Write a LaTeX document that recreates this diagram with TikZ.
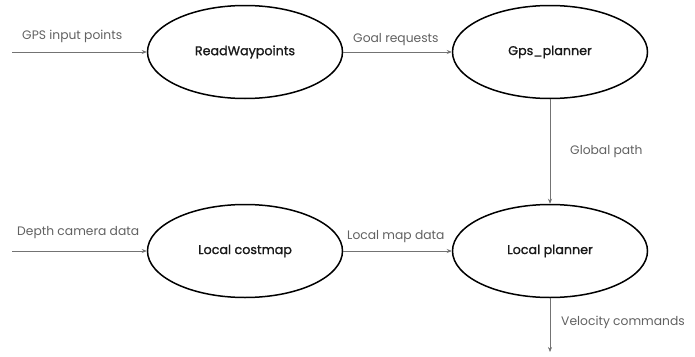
\documentclass[tikz,border=0pt]{standalone}
\usepackage{fontspec}
\setmainfont{Poppins}
\newfontfamily\nodefont{Poppins}[FakeBold=1.2]
\usetikzlibrary{shapes.geometric,arrows.meta}
\begin{document}
\begin{tikzpicture}[x=1pt,y=-1pt,
  proc/.style={draw=black,line width=1.5pt,ellipse,minimum width=195pt,minimum height=93pt,inner sep=0pt,font=\nodefont\fontsize{12.7}{14}\selectfont,text=black!90},
  flow/.style={draw=black!55,line width=0.7pt,-{Stealth[length=5pt,width=4pt,fill=black!85]}},
  lbl/.style={font=\fontsize{12.3}{14}\selectfont,text=black!62,inner sep=0pt}]
\useasboundingbox (0,0) rectangle (695,356);
\node[proc] (rw) at (245,52) {ReadWaypoints};
\node[proc] (gps) at (550,52) {Gps\_planner};
\node[proc] (lc) at (245,251) {Local costmap};
\node[proc] (lp) at (550,251) {Local planner};
\coordinate (in1) at (12,52);
\coordinate (in2) at (12,251);
\coordinate (out) at (550,352);
\draw[flow] (in1) -- (rw.west);
\draw[flow] (rw.east) -- (gps.west);
\draw[flow] (gps.south) -- (lp.north);
\draw[flow] (in2) -- (lc.west);
\draw[flow] (lc.east) -- (lp.west);
\draw[flow] (lp.south) -- (out);
\node[lbl,anchor=west] (l1) at (22,36) {GPS input points};
\node[lbl,anchor=west] (l2) at (353,40) {Goal requests};
\node[lbl,anchor=west] (l3) at (570,152) {Global path};
\node[lbl,anchor=west] (l4) at (17,233) {Depth camera data};
\node[lbl,anchor=west] (l5) at (347,237) {Local map data};
\node[lbl,anchor=west] (l6) at (561,322) {Velocity commands};
\end{tikzpicture}
\end{document}
